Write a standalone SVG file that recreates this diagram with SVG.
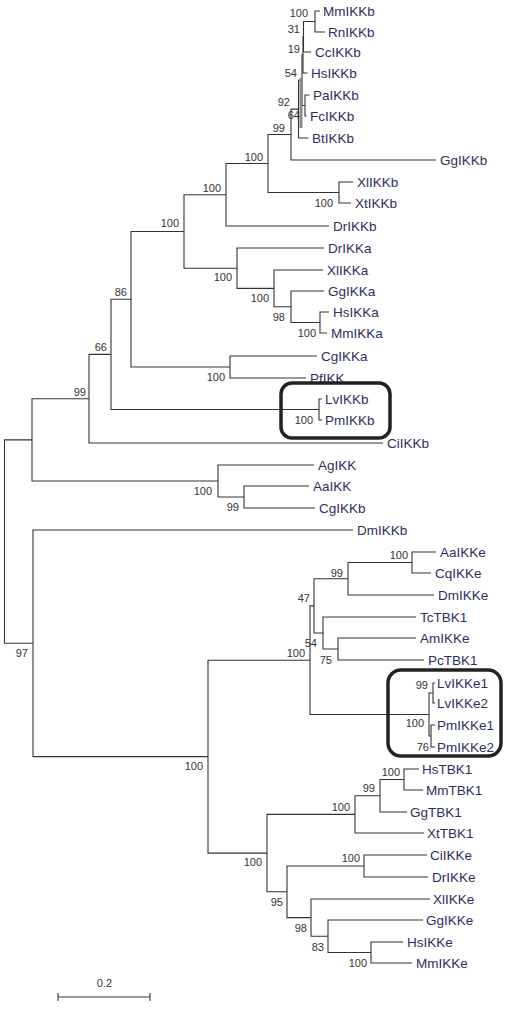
<svg xmlns="http://www.w3.org/2000/svg" width="510" height="1013" viewBox="0 0 510 1013">
<style>
.t{font-family:"Liberation Sans",Arial,sans-serif;font-size:13.5px;fill:#2e2e5e}
.b{font-family:"Liberation Sans",Arial,sans-serif;font-size:11px;fill:#333;text-anchor:end}
.br{fill:none;stroke:#333;stroke-width:1.1}
.box{fill:none;stroke:#222;stroke-width:3.5}
</style>
<rect width="510" height="1013" fill="#fff"/>
<g id="connectors" class="br">
<path d="M320 11H315V32H325"/>
<path d="M315 21.5H303.5V52H311"/>
<path d="M303.5 36.75H303V73H307.5"/>
<path d="M309.5 95H305V116H306.5"/>
<path d="M303 54.9H302V105.5H305"/>
<path d="M302 80.2H298.5V138H308.5"/>
<path d="M298.5 109.1H291V160H436"/>
<path d="M353 182H339V203H351"/>
<path d="M291 134.5H268V192.5H339"/>
<path d="M268 163.5H226V226H329"/>
<path d="M329 312H320V333H327"/>
<path d="M324 291H291V322.5H320"/>
<path d="M323 270H274V306.75H291"/>
<path d="M324 248H237V288.4H274"/>
<path d="M226 194.75H184V268.2H237"/>
<path d="M317 356H230V378H306"/>
<path d="M184 231.5H131V367H230"/>
<path d="M322 399H319V420H322"/>
<path d="M131 299.2H111V409.5H319"/>
<path d="M111 354.4H89V443H383"/>
<path d="M309 486H244V508H315"/>
<path d="M314 465H218V497H244"/>
<path d="M89 398.7H32V481H218"/>
<path d="M436 552H412V573H431"/>
<path d="M412 562.5H348V595H434"/>
<path d="M416 638H338V660H424"/>
<path d="M416 617H323V649H338"/>
<path d="M348 578.75H314V633H323"/>
<path d="M435 683H433V703H435"/>
<path d="M435 725H431V747H435"/>
<path d="M433 693H429V736H431"/>
<path d="M314 605.9H310V714.5H429"/>
<path d="M419 769H404V790H423"/>
<path d="M404 779.5H380V812H407"/>
<path d="M380 795.75H355V833H424"/>
<path d="M427 855H364V877H428"/>
<path d="M403 942H371V963H412"/>
<path d="M423 920H328V952.5H371"/>
<path d="M430 899H311V936.25H328"/>
<path d="M364 866H287V917.6H311"/>
<path d="M355 814.4H267V891.8H287"/>
<path d="M310 660.2H208V853.1H267"/>
<path d="M353 530H33V756.65H208"/>
<path d="M32 439.9H4.5V643.3H33"/>
<rect x="299.5" y="78" width="3" height="50" fill="#8a8a8a" stroke="none"/>
</g>
<g id="leaf-MmIKKb"><text class="t" x="323" y="15.8">MmIKKb</text></g>
<g id="leaf-RnIKKb"><text class="t" x="328" y="36.8">RnIKKb</text></g>
<g id="leaf-CcIKKb"><text class="t" x="315" y="56.8">CcIKKb</text></g>
<g id="leaf-HsIKKb"><text class="t" x="311" y="77.8">HsIKKb</text></g>
<g id="leaf-PaIKKb"><text class="t" x="313" y="99.8">PaIKKb</text></g>
<g id="leaf-FcIKKb"><text class="t" x="310" y="120.8">FcIKKb</text></g>
<g id="leaf-BtIKKb"><text class="t" x="312" y="142.8">BtIKKb</text></g>
<g id="leaf-GgIKKb"><text class="t" x="440" y="164.8">GgIKKb</text></g>
<g id="leaf-XlIKKb"><text class="t" x="357" y="186.8">XlIKKb</text></g>
<g id="leaf-XtIKKb"><text class="t" x="355" y="207.8">XtIKKb</text></g>
<g id="leaf-DrIKKb"><text class="t" x="333" y="230.8">DrIKKb</text></g>
<g id="leaf-DrIKKa"><text class="t" x="328" y="252.8">DrIKKa</text></g>
<g id="leaf-XlIKKa"><text class="t" x="327" y="274.8">XlIKKa</text></g>
<g id="leaf-GgIKKa"><text class="t" x="328" y="295.8">GgIKKa</text></g>
<g id="leaf-HsIKKa"><text class="t" x="333" y="316.8">HsIKKa</text></g>
<g id="leaf-MmIKKa"><text class="t" x="331" y="337.8">MmIKKa</text></g>
<g id="leaf-CgIKKa"><text class="t" x="321" y="360.8">CgIKKa</text></g>
<g id="leaf-PfIKK"><text class="t" x="310" y="382.8">PfIKK</text></g>
<g id="leaf-LvIKKb"><text class="t" x="325" y="403.8">LvIKKb</text></g>
<g id="leaf-PmIKKb"><text class="t" x="325" y="424.8">PmIKKb</text></g>
<g id="leaf-CiIKKb"><text class="t" x="387" y="447.8">CiIKKb</text></g>
<g id="leaf-AgIKK"><text class="t" x="318" y="469.8">AgIKK</text></g>
<g id="leaf-AaIKK"><text class="t" x="313" y="490.8">AaIKK</text></g>
<g id="leaf-CgIKKb"><text class="t" x="319" y="512.8">CgIKKb</text></g>
<g id="leaf-DmIKKb"><text class="t" x="357" y="534.8">DmIKKb</text></g>
<g id="leaf-AaIKKe"><text class="t" x="440" y="556.8">AaIKKe</text></g>
<g id="leaf-CqIKKe"><text class="t" x="435" y="577.8">CqIKKe</text></g>
<g id="leaf-DmIKKe"><text class="t" x="438" y="599.8">DmIKKe</text></g>
<g id="leaf-TcTBK1"><text class="t" x="420" y="621.8">TcTBK1</text></g>
<g id="leaf-AmIKKe"><text class="t" x="420" y="642.8">AmIKKe</text></g>
<g id="leaf-PcTBK1"><text class="t" x="428" y="664.8">PcTBK1</text></g>
<g id="leaf-LvIKKe1"><text class="t" x="437" y="687.8">LvIKKe1</text></g>
<g id="leaf-LvIKKe2"><text class="t" x="437" y="707.8">LvIKKe2</text></g>
<g id="leaf-PmIKKe1"><text class="t" x="437" y="729.8">PmIKKe1</text></g>
<g id="leaf-PmIKKe2"><text class="t" x="437" y="751.8">PmIKKe2</text></g>
<g id="leaf-HsTBK1"><text class="t" x="422" y="773.8">HsTBK1</text></g>
<g id="leaf-MmTBK1"><text class="t" x="426" y="794.8">MmTBK1</text></g>
<g id="leaf-GgTBK1"><text class="t" x="410" y="816.8">GgTBK1</text></g>
<g id="leaf-XtTBK1"><text class="t" x="427" y="837.8">XtTBK1</text></g>
<g id="leaf-CiIKKe"><text class="t" x="430" y="859.8">CiIKKe</text></g>
<g id="leaf-DrIKKe"><text class="t" x="432" y="881.8">DrIKKe</text></g>
<g id="leaf-XlIKKe"><text class="t" x="433" y="903.8">XlIKKe</text></g>
<g id="leaf-GgIKKe"><text class="t" x="426" y="924.8">GgIKKe</text></g>
<g id="leaf-HsIKKe"><text class="t" x="407" y="946.8">HsIKKe</text></g>
<g id="leaf-MmIKKe"><text class="t" x="416" y="967.8">MmIKKe</text></g>
<g id="bootstrap">
<g id="n1"><text class="b" x="308" y="17">100</text></g>
<g id="n2"><text class="b" x="300" y="33">31</text></g>
<g id="n3"><text class="b" x="300" y="53">19</text></g>
<g id="n4"><text class="b" x="297" y="77">54</text></g>
<g id="n5"><text class="b" x="290" y="106">92</text></g>
<g id="n6"><text class="b" x="300" y="119">64</text></g>
<g id="n7"><text class="b" x="285" y="132">99</text></g>
<g id="n8"><text class="b" x="263" y="161">100</text></g>
<g id="n9"><text class="b" x="333" y="207">100</text></g>
<g id="n10"><text class="b" x="221" y="192">100</text></g>
<g id="n11"><text class="b" x="179" y="227">100</text></g>
<g id="n12"><text class="b" x="232" y="281">100</text></g>
<g id="n13"><text class="b" x="269" y="302">100</text></g>
<g id="n14"><text class="b" x="285" y="321">98</text></g>
<g id="n15"><text class="b" x="316" y="337">100</text></g>
<g id="n16"><text class="b" x="127" y="296">86</text></g>
<g id="n17"><text class="b" x="107" y="351">66</text></g>
<g id="n18"><text class="b" x="86" y="396">99</text></g>
<g id="n19"><text class="b" x="225" y="381">100</text></g>
<g id="n20"><text class="b" x="313" y="424">100</text></g>
<g id="n21"><text class="b" x="212" y="495">100</text></g>
<g id="n22"><text class="b" x="239" y="511">99</text></g>
<g id="n23"><text class="b" x="28" y="657">97</text></g>
<g id="n24"><text class="b" x="203" y="770">100</text></g>
<g id="n25"><text class="b" x="408" y="559">100</text></g>
<g id="n26"><text class="b" x="343" y="577">99</text></g>
<g id="n27"><text class="b" x="310" y="602">47</text></g>
<g id="n28"><text class="b" x="317" y="647">54</text></g>
<g id="n29"><text class="b" x="305" y="657">100</text></g>
<g id="n30"><text class="b" x="332" y="664">75</text></g>
<g id="n31"><text class="b" x="428" y="689">99</text></g>
<g id="n32"><text class="b" x="424" y="727">100</text></g>
<g id="n33"><text class="b" x="429" y="751">76</text></g>
<g id="n34"><text class="b" x="400" y="776">100</text></g>
<g id="n35"><text class="b" x="375" y="792">99</text></g>
<g id="n36"><text class="b" x="350" y="811">100</text></g>
<g id="n37"><text class="b" x="262" y="866">100</text></g>
<g id="n38"><text class="b" x="360" y="862">100</text></g>
<g id="n39"><text class="b" x="283" y="906">95</text></g>
<g id="n40"><text class="b" x="307" y="932">98</text></g>
<g id="n41"><text class="b" x="324" y="951">83</text></g>
<g id="n42"><text class="b" x="367" y="967">100</text></g>
</g>
<g id="box-LvPmIKKb"><rect class="box" x="281" y="383" width="109" height="55" rx="11"/></g>
<g id="box-IKKe"><rect class="box" x="388" y="670" width="113" height="86" rx="13"/></g>
<g id="scale-bar">
<path class="br" d="M58 997H150M58 993V1001M150 993V1001"/>
<text class="b" x="112" y="987">0.2</text>
</g>
</svg>
